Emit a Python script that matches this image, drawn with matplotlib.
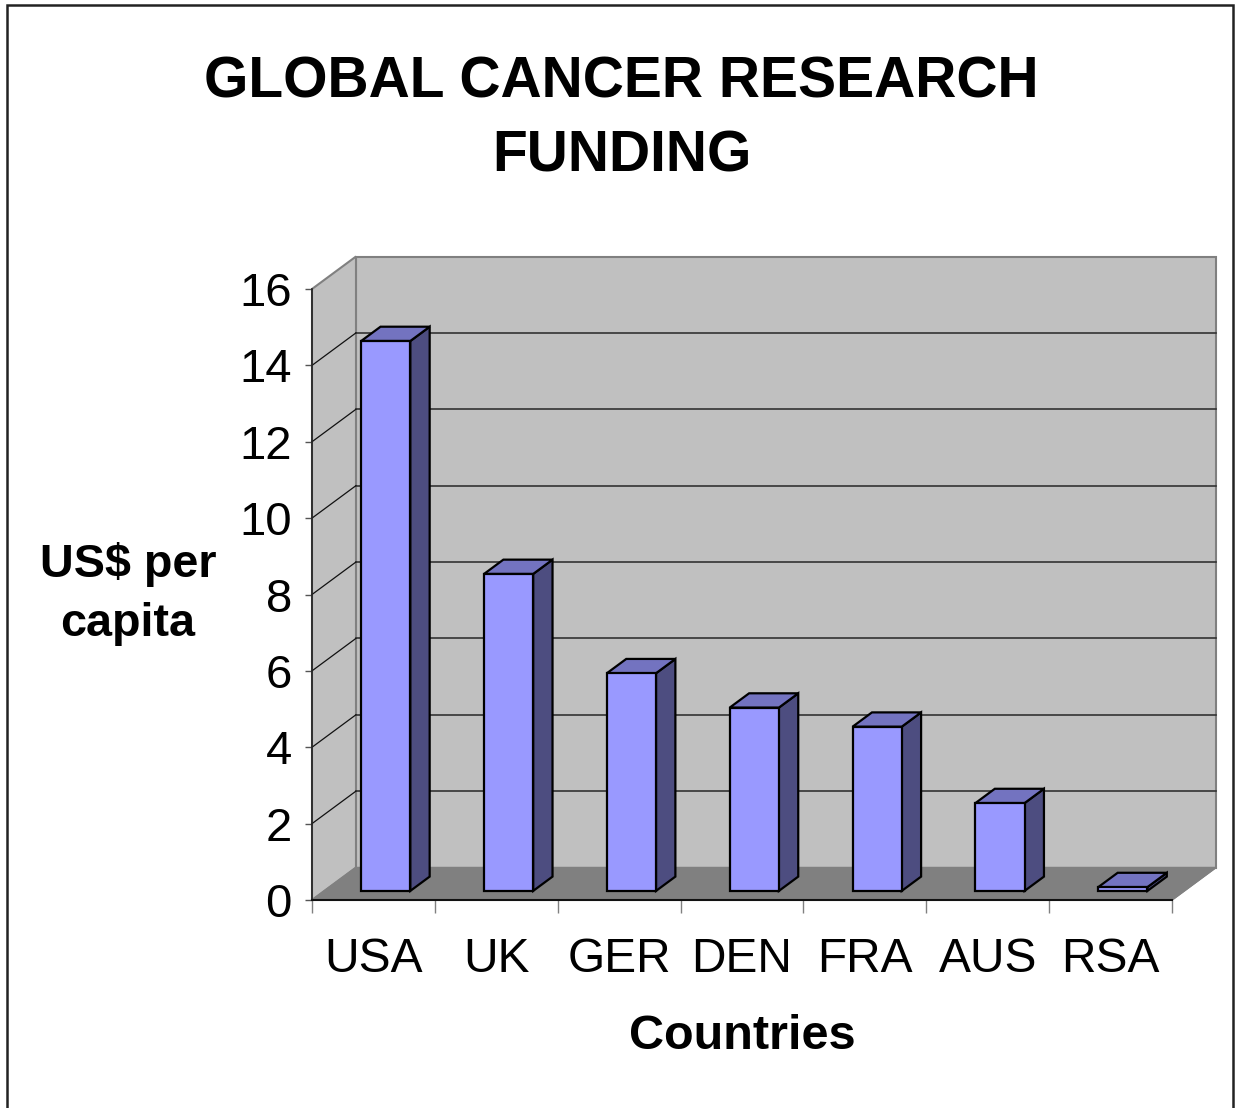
import matplotlib
matplotlib.use("Agg")
import matplotlib.pyplot as plt
from matplotlib.patches import Polygon, Rectangle

plt.rcParams['font.family'] = ['Liberation Sans', 'DejaVu Sans']

# data
countries = ['USA', 'UK', 'GER', 'DEN', 'FRA', 'AUS', 'RSA']
funding = [14.4, 8.3, 5.7, 4.8, 4.3, 2.3, 0.1]
y_ticks = [0, 2, 4, 6, 8, 10, 12, 14, 16]

W, H = 1239, 1108
fig = plt.figure(figsize=(W / 100, H / 100), dpi=100)

# front plane of the 3d box
ax = fig.add_axes([312 / W, 1 - 900 / H, 860 / W, 611 / H])
ax.set_xlim(0, len(countries))
ax.set_ylim(0, 16)
ax.patch.set_visible(False)

# depth offset of the box (in data units)
DX = 0.358
DY = 0.851
n = len(countries)
ymax = 16

wall_c = '#C0C0C0'
floor_c = '#808080'
edge_c = '#808080'

# back wall
ax.add_patch(Rectangle((DX, DY), n, ymax, facecolor=wall_c, edgecolor=edge_c,
                       lw=1.5, clip_on=False, zorder=0.5))
# left side wall
ax.add_patch(Polygon([(0, 0), (DX, DY), (DX, ymax + DY), (0, ymax)], closed=True,
                     facecolor=wall_c, edgecolor=edge_c, lw=1.5, clip_on=False, zorder=0.5))
# gridlines on walls
for t in y_ticks[1:-1]:
    ax.plot([DX, n + DX], [t + DY, t + DY], color='#333333', lw=1.2, clip_on=False, zorder=0.6)
    ax.plot([0, DX], [t, t + DY], color='#111111', lw=0.9, clip_on=False, zorder=0.6)
# floor
ax.add_patch(Polygon([(0, 0), (n, 0), (n + DX, DY), (DX, DY)], closed=True,
                     facecolor=floor_c, edgecolor=edge_c, lw=1, clip_on=False, zorder=0.7))

# bars
bw = 0.4
d0, d1 = 0.28, 0.72
for i, v in enumerate(funding):
    x0 = i + 0.5 - bw / 2 + d0 * DX
    x1 = x0 + bw
    y0 = d0 * DY
    y1 = v + d0 * DY
    ox = (d1 - d0) * DX
    oy = (d1 - d0) * DY
    front = Polygon([(x0, y0), (x1, y0), (x1, y1), (x0, y1)], closed=True,
                    facecolor='#9999FF', edgecolor='black', lw=1.6, zorder=1, clip_on=False)
    side = Polygon([(x1, y0), (x1 + ox, y0 + oy), (x1 + ox, y1 + oy), (x1, y1)], closed=True,
                   facecolor='#4D4D80', edgecolor='black', lw=1.6, zorder=1, clip_on=False)
    top = Polygon([(x0, y1), (x1, y1), (x1 + ox, y1 + oy), (x0 + ox, y1 + oy)], closed=True,
                  facecolor='#7373C0', edgecolor='black', lw=1.6, zorder=1, clip_on=False)
    ax.add_patch(side)
    ax.add_patch(top)
    ax.add_patch(front)

# right edge of floor
ax.plot([n, n + DX], [0, DY], color=edge_c, lw=1.2, clip_on=False, zorder=0.8)

# axes, ticks, labels
for s in ['top', 'right']:
    ax.spines[s].set_visible(False)
ax.spines['left'].set_color('#222222')
ax.spines['bottom'].set_color('#111111')
ax.spines['left'].set_linewidth(1.2)
ax.spines['bottom'].set_linewidth(1.5)

ax.set_yticks(y_ticks)
ax.set_yticklabels([str(t) for t in y_ticks], fontsize=34)
ax.tick_params(axis='y', length=5, width=1, color='#555555', pad=9.5)

ax.set_xticks(range(n + 1))
ax.set_xticklabels([])
ax.set_xticks([i + 0.5 for i in range(n)], minor=True)
ax.set_xticklabels(countries, minor=True, fontsize=34.5)
ax.tick_params(axis='x', which='major', length=9, width=1, color='#808080')
ax.tick_params(axis='x', which='minor', length=0, pad=27)

# titles
fig.text(621.5 / W, 1 - 98 / H, 'GLOBAL CANCER RESEARCH', ha='center', va='baseline',
         fontsize=41, fontweight='bold')
fig.text(621.5 / W, 1 - 171 / H, 'FUNDING', ha='center', va='baseline',
         fontsize=41, fontweight='bold')
fig.text(128 / W, 1 - 577 / H, 'US$ per', ha='center', va='baseline',
         fontsize=33.7, fontweight='bold')
fig.text(128 / W, 1 - 636 / H, 'capita', ha='center', va='baseline',
         fontsize=33.7, fontweight='bold')
fig.text(742 / W, 1 - 1049 / H, 'Countries', ha='center', va='baseline',
         fontsize=35, fontweight='bold')

# chart area border (bottom edge runs off the picture)
fig.add_artist(Rectangle((7 / W, -0.05), (1233 - 7) / W, 1.05 - 5 / H,
                         transform=fig.transFigure, fill=False, edgecolor='#222222', lw=1.8))

fig.savefig('out.png', dpi=100)
